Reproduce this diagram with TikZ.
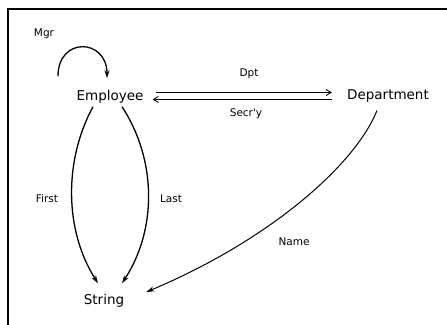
\documentclass[tikz,border=0pt]{standalone}
\usepackage{fontspec}
\setmainfont{DejaVu Sans}
\usetikzlibrary{arrows.meta,calc}
\tikzset{
  obj/.style={inner sep=2pt, font=\fontsize{13.5}{15}\selectfont},
  lbl/.style={inner sep=0pt, font=\fontsize{10.5}{12}\selectfont},
  arr/.style={line width=1.3pt, -{Stealth[length=8pt,width=5pt]}},
  thin arr/.style={line width=0.9pt, -{Straight Barb[length=5pt,width=6pt]}},
  frame/.style={line width=1.8pt}
}
\begin{document}
\begin{tikzpicture}[x=1pt,y=-1pt]
\useasboundingbox (0,0) rectangle (447,324);
\draw[frame] (8,340) -- (8,9) -- (460,9);
\node[obj] (emp) at (110,97) {Employee};
\node[obj] (dep) at (388,96) {Department};
\node[obj] (str) at (104,301) {String};
\node[lbl] (mgr) at (44,34) {Mgr};
\node[lbl] (dpt) at (249,74) {Dpt};
\node[lbl] (sec) at (246,114) {Secr\textquotesingle y};
\node[lbl] (first) at (47,199) {First};
\node[lbl] (last) at (171,199) {Last};
\node[lbl] (name) at (294,242) {Name};
% self loop
\draw[arr] ($(emp.north)+(-52,-12)$) .. controls +(0,-40) and +(0,-40) .. ($(emp.north)+(-3,-10)$);
% double lines
\draw[thin arr] ($(emp.east)+(10,-4.5)$) -- ($(dep.west)+(-13,-3.5)$);
\draw[thin arr] ($(dep.west)+(-13,3.5)$) -- ($(emp.east)+(7,2.5)$);
% First / Last
\draw[arr] ($(emp.south)+(-17,1)$) .. controls (64,160) and (64,230) .. ($(str.north)+(-6,-9)$);
\draw[arr] ($(emp.south)+(12,1)$) .. controls (157,160) and (157,230) .. ($(str.north)+(18,-9)$);
% Name
\draw[line width=1pt, -{Stealth[length=8pt,width=5pt]}] ($(dep.south)+(-11,6)$) .. controls (355,165) and (270,240) .. ($(str.east)+(20,-9)$);
\end{tikzpicture}
\end{document}
